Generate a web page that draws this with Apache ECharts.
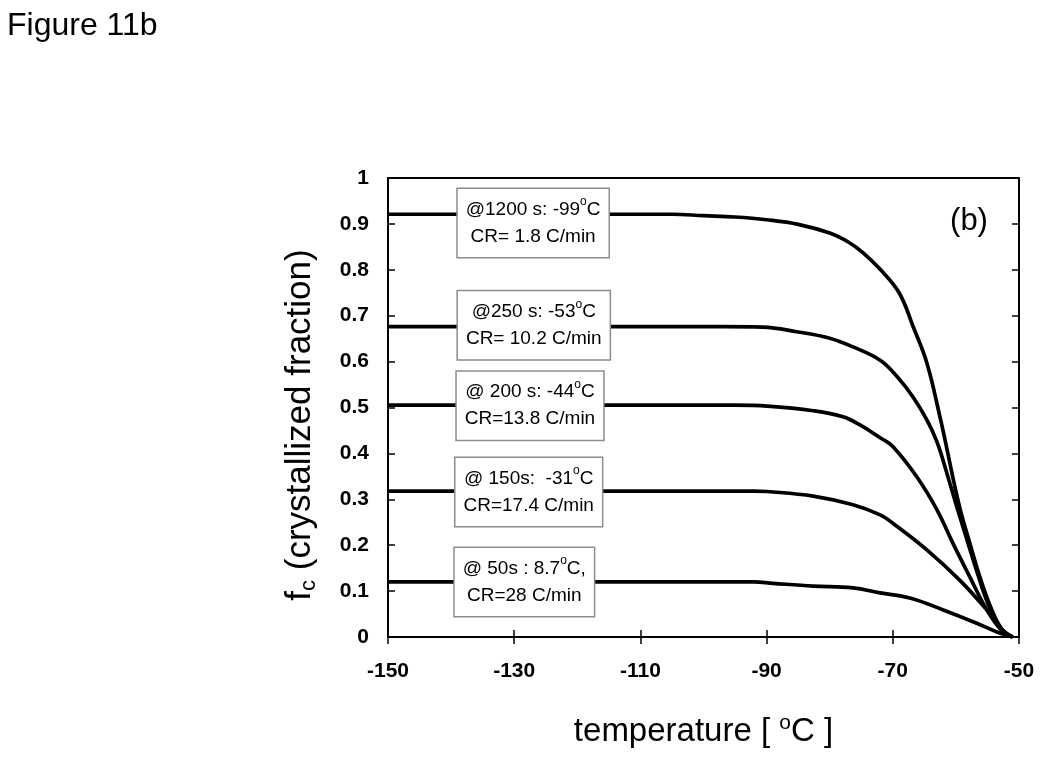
<!DOCTYPE html>
<html><head><meta charset="utf-8">
<script src="https://cdn.jsdelivr.net/npm/echarts@6/dist/echarts.min.js"></script>
<style>html,body{margin:0;padding:0;background:#fff}#c{width:1050px;height:766px}</style>
</head><body><div id="c"></div>
<script>
// ---- data ----
const t1 = [-150, -105, -100, -95, -90, -85, -80, -77, -74.7, -72, -69, -66.8, -64.6, -62.5, -61.5, -60.5, -59.3, -57.8, -56.2, -54.3, -52.5, -51];
const f1 = [0.921, 0.921, 0.918, 0.915, 0.909, 0.899, 0.880, 0.860, 0.837, 0.801, 0.750, 0.677, 0.597, 0.478, 0.415, 0.349, 0.277, 0.205, 0.131, 0.059, 0.012, 0];
const t2 = [-150, -97, -90.6, -85.2, -80, -76.3, -72, -69.3, -66.8, -64.6, -63, -61.5, -60, -58.2, -56.5, -54.6, -52.6, -51];
const f2 = [0.676, 0.676, 0.675, 0.665, 0.651, 0.632, 0.603, 0.567, 0.523, 0.473, 0.425, 0.360, 0.290, 0.210, 0.135, 0.062, 0.015, 0];
const t3 = [-150, -95, -89.9, -82.6, -77.9, -75.2, -72, -70, -66.2, -63, -60.5, -57.8, -55.1, -52.8, -51];
const f3 = [0.505, 0.505, 0.503, 0.493, 0.480, 0.462, 0.434, 0.415, 0.349, 0.277, 0.205, 0.131, 0.059, 0.015, 0];
const t4 = [-150, -92, -89.9, -82.6, -76.3, -72, -70, -64.6, -59.4, -55.1, -52.8, -51];
const f4 = [0.318, 0.318, 0.317, 0.307, 0.288, 0.266, 0.248, 0.190, 0.124, 0.059, 0.018, 0];
const t5 = [-150, -92, -89, -82.6, -76.3, -72, -67.3, -62, -56.7, -53.5, -51];
const f5 = [0.120, 0.120, 0.117, 0.111, 0.107, 0.096, 0.085, 0.059, 0.030, 0.011, 0];

// annotation boxes: anchor (temperature, fraction) and text
const noteT = [-127.0, -126.9, -127.5, -127.7, -128.4];
const noteF = [0.902, 0.679, 0.504, 0.316, 0.120];
const noteHead = ['@1200 s: -99', '@250 s: -53', '@ 200 s: -44', '@ 150s:  -31', '@ 50s : 8.7'];
const noteUnit = ['C', 'C', 'C', 'C', 'C,'];
const noteRate = ['CR= 1.8 C/min', 'CR= 10.2 C/min', 'CR=13.8 C/min', 'CR=17.4 C/min', 'CR=28 C/min'];

const xMin = -150, xMax = -50, xStep = 20;
const yMin = 0, yMax = 1, yStep = 0.1;

// ---- chart ----
const FONT = "'Liberation Sans', Arial, Helvetica, sans-serif";
const zip = (a, b) => a.map((v, i) => [v, b[i]]);
const curves = [[t1, f1], [t2, f2], [t3, f3], [t4, f4], [t5, f5]];

const lineSeries = curves.map(([t, f]) => ({
  type: 'line',
  data: zip(t, f),
  showSymbol: false,
  symbol: 'none',
  smooth: 0.4,
  lineStyle: { color: '#000', width: 3.7 },
  z: 2,
  silent: true
}));

const noteSeries = {
  type: 'scatter',
  data: noteT.map((t, i) => [t, noteF[i]]),
  symbol: 'circle',
  symbolSize: 0,
  itemStyle: { color: '#fff', opacity: 1 },
  z: 10,
  silent: true,
  label: {
    show: true,
    opacity: 1,
    position: 'inside',
    align: 'center',
    verticalAlign: 'middle',
    backgroundColor: '#fff',
    borderColor: '#8c8c8c',
    borderWidth: 1.5,
    padding: [7, 8, 7, 8],
    color: '#000',
    formatter: p => {
      const i = p.dataIndex;
      return '{n|' + noteHead[i] + '}{s|o}{n|' + noteUnit[i] + '}\n{n|' + noteRate[i] + '}';
    },
    rich: {
      n: { fontFamily: FONT, fontSize: 19, lineHeight: 27, color: '#000' },
      s: { fontFamily: FONT, fontSize: 12, lineHeight: 27, color: '#000', verticalAlign: 'top' }
    }
  }
};

const tickLabel = { fontFamily: FONT, fontSize: 21, fontWeight: 'bold', color: '#000' };
const axisLineS = { show: true, lineStyle: { color: '#000', width: 2 } };
const tickS = { show: true, inside: true, length: 7, lineStyle: { color: '#000', width: 1.5 } };

const option = {
  animation: false,
  backgroundColor: '#fff',
  title: {
    text: 'Figure 11b', left: 7, top: 10, padding: 0,
    textStyle: { fontFamily: FONT, fontSize: 32, fontWeight: 'normal', color: '#000' }
  },
  grid: { left: 388, right: 31, top: 178, bottom: 129, show: true, borderColor: '#000', borderWidth: 2 },
  xAxis: [{
    type: 'value', min: xMin, max: xMax, interval: xStep, position: 'bottom',
    axisLine: axisLineS, axisTick: tickS, splitLine: { show: false },
    axisLabel: Object.assign({ margin: 24 }, tickLabel),
    name: '{t|temperature [ }{s|o}{t|C ]}',
    nameLocation: 'middle', nameGap: 76,
    nameTextStyle: {
      rich: {
        t: { fontFamily: FONT, fontSize: 33, lineHeight: 38, color: '#000' },
        s: { fontFamily: FONT, fontSize: 21, lineHeight: 38, color: '#000', verticalAlign: 'top' }
      }
    }
  }, {
    type: 'value', min: xMin, max: xMax, interval: xStep, position: 'top',
    axisLine: axisLineS, axisTick: tickS, axisLabel: { show: false }, splitLine: { show: false }
  }],
  yAxis: [{
    type: 'value', min: yMin, max: yMax, interval: yStep, position: 'left',
    axisLine: axisLineS, axisTick: tickS, splitLine: { show: false },
    axisLabel: Object.assign({ margin: 19 }, tickLabel),
    name: '{f|f}{c|c}{f| (crystallized fraction)}',
    nameLocation: 'middle', nameGap: 68,
    nameTextStyle: {
      padding: [0, 35, 0, 0],
      rich: {
        f: { fontFamily: FONT, fontSize: 35, lineHeight: 40, color: '#000' },
        c: { fontFamily: FONT, fontSize: 22, lineHeight: 40, color: '#000', verticalAlign: 'bottom' }
      }
    }
  }, {
    type: 'value', min: yMin, max: yMax, interval: yStep, position: 'right',
    axisLine: axisLineS, axisTick: tickS, axisLabel: { show: false }, splitLine: { show: false }
  }],
  graphic: [{
    type: 'text', x: 969, y: 221, z: 20,
    style: { text: '(b)', fontFamily: FONT, fontSize: 31, fill: '#000', align: 'center', verticalAlign: 'middle' }
  }],
  series: lineSeries.concat([noteSeries])
};

const chart = echarts.init(document.getElementById('c'), null, { renderer: 'canvas' });
chart.setOption(option);
</script>
</body></html>
